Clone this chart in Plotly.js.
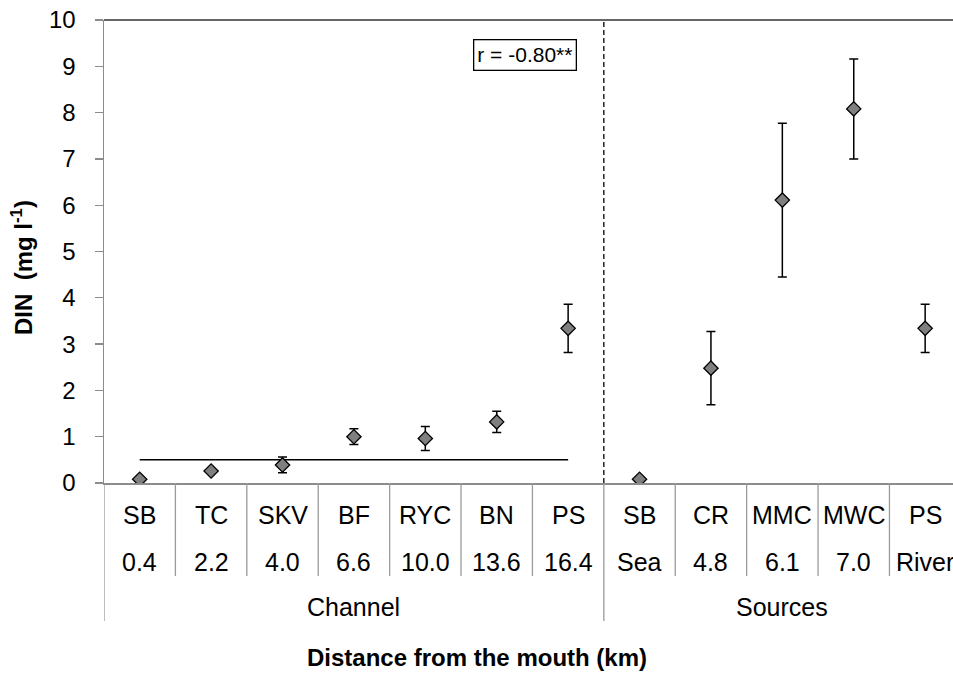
<!DOCTYPE html>
<html>
<head>
<meta charset="utf-8">
<script src="https://cdn.plot.ly/plotly-3.0.1.min.js"></script>
<style>
  html, body { margin: 0; padding: 0; background: #fff; }
  #chart { width: 953px; height: 673px; }
</style>
</head>
<body>
<div id="chart"></div>
<script>
// Sampling sites along the channel and the nutrient sources
const siteNames = ['SB', 'TC', 'SKV', 'BF', 'RYC', 'BN', 'PS', 'SB', 'CR', 'MMC', 'MWC', 'PS'];
const siteDistances = ['0.4', '2.2', '4.0', '6.6', '10.0', '13.6', '16.4', 'Sea', '4.8', '6.1', '7.0', 'River'];
const groupNames = ['Channel', 'Sources'];
const groupSizes = [7, 5];

// Mean DIN (mg l-1) and standard deviation per site
const dinMean = [0.08, 0.26, 0.39, 1.00, 0.96, 1.32, 3.34, 0.08, 2.48, 6.11, 8.08, 3.34];
const dinSD = [0.00, 0.05, 0.17, 0.17, 0.26, 0.23, 0.52, 0.00, 0.79, 1.66, 1.08, 0.52];

// Reference level drawn across the channel sites
const guideLevel = 0.5;
const correlationText = 'r = -0.80**';

const W = 953, H = 673;
const M = { l: 104, r: 0, t: 20, b: 190 };
const plotH = H - M.t - M.b;
const toPaper = (px) => (H - M.b - px) / plotH;   // pixel row -> paper y

const xIdx = siteNames.map((_, i) => i);
const nChannel = groupSizes[0];

const font = 'Liberation Sans, Arial, sans-serif';
const axisGrey = '#8c8c8c';
const labelSize = 25;

const traces = [
  {
    x: [0, nChannel - 1],
    y: [guideLevel, guideLevel],
    mode: 'lines',
    line: { color: '#000', width: 1.5 },
    hoverinfo: 'skip',
    showlegend: false
  },
  {
    x: xIdx,
    y: dinMean,
    mode: 'markers',
    marker: { symbol: 'diamond', size: 11, color: '#7f7f7f', line: { color: '#000', width: 1.3 } },
    error_y: { type: 'data', array: dinSD, visible: true, color: '#000', thickness: 1.5, width: 4.5 },
    showlegend: false
  }
];

const shapes = [];
// top border
shapes.push({ type: 'line', xref: 'paper', yref: 'paper', x0: 0, x1: 1, y0: 1, y1: 1,
  line: { color: '#333', width: 1.3 } });
// dashed split between channel and sources
shapes.push({ type: 'line', xref: 'x', yref: 'paper', x0: nChannel - 0.5, x1: nChannel - 0.5, y0: 0, y1: 1,
  line: { color: '#000', width: 1.3, dash: '5px,3px' } });
// category separators below the axis
for (let k = 0; k <= siteNames.length; k++) {
  const xb = k - 0.5;
  const isGroupEdge = (k === 0 || k === nChannel || k === siteNames.length);
  shapes.push({ type: 'line', xref: 'x', yref: 'paper', x0: xb, x1: xb,
    y0: 0, y1: toPaper(isGroupEdge ? 621 : 576),
    line: { color: '#9a9a9a', width: 1.3 } });
}

const annotations = [];
siteNames.forEach((n, i) => {
  annotations.push({ x: i, y: 0, xref: 'x', yref: 'paper', yshift: -32, text: n, showarrow: false,
    font: { family: font, size: labelSize, color: '#000' }, xanchor: 'center', yanchor: 'middle' });
  annotations.push({ x: i, y: 0, xref: 'x', yref: 'paper', yshift: -79, text: siteDistances[i], showarrow: false,
    font: { family: font, size: labelSize, color: '#000' }, xanchor: 'center', yanchor: 'middle' });
});
let start = 0;
groupNames.forEach((g, gi) => {
  const mid = start + (groupSizes[gi] - 1) / 2;
  annotations.push({ x: mid, y: 0, xref: 'x', yref: 'paper', yshift: -124, text: g, showarrow: false,
    font: { family: font, size: labelSize, color: '#000' }, xanchor: 'center', yanchor: 'middle' });
  start += groupSizes[gi];
});
// x axis title
annotations.push({ x: 4.72, y: 0, xref: 'x', yref: 'paper', yshift: -174,
  text: '<b>Distance from the mouth (km)</b>', showarrow: false,
  font: { family: font, size: 24, color: '#000' }, xanchor: 'center', yanchor: 'middle' });
// y axis title
annotations.push({ x: 0, y: toPaper(268), xref: 'paper', yref: 'paper', xshift: -82, textangle: -90,
  text: '<b>DIN  (mg l<sup>-1</sup>)</b>', showarrow: false,
  font: { family: font, size: 24, color: '#000' }, xanchor: 'center', yanchor: 'middle' });
// correlation box
annotations.push({ x: 5.4, y: 9.24, xref: 'x', yref: 'y', text: correlationText, showarrow: false,
  font: { family: font, size: 21, color: '#000' }, bordercolor: '#000', borderwidth: 1.3, borderpad: 3,
  bgcolor: '#fff', xanchor: 'center', yanchor: 'middle' });

const layout = {
  width: W, height: H,
  margin: M,
  paper_bgcolor: '#fff', plot_bgcolor: '#fff',
  font: { family: font, color: '#000' },
  showlegend: false,
  xaxis: {
    range: [-0.5, 11.39],
    showgrid: false, zeroline: false,
    showline: true, linecolor: axisGrey, linewidth: 1.5,
    showticklabels: false, ticks: ''
  },
  yaxis: {
    range: [0, 10], dtick: 1,
    showgrid: false, zeroline: false,
    showline: true, linecolor: axisGrey, linewidth: 1.5,
    ticks: 'outside', ticklen: 8, tickcolor: axisGrey, tickwidth: 1.3,
    ticklabelstandoff: 14,
    tickfont: { family: font, size: 24, color: '#000' }
  },
  shapes: shapes,
  annotations: annotations
};

Plotly.newPlot('chart', traces, layout, { staticPlot: true, displayModeBar: false });
</script>
</body>
</html>
